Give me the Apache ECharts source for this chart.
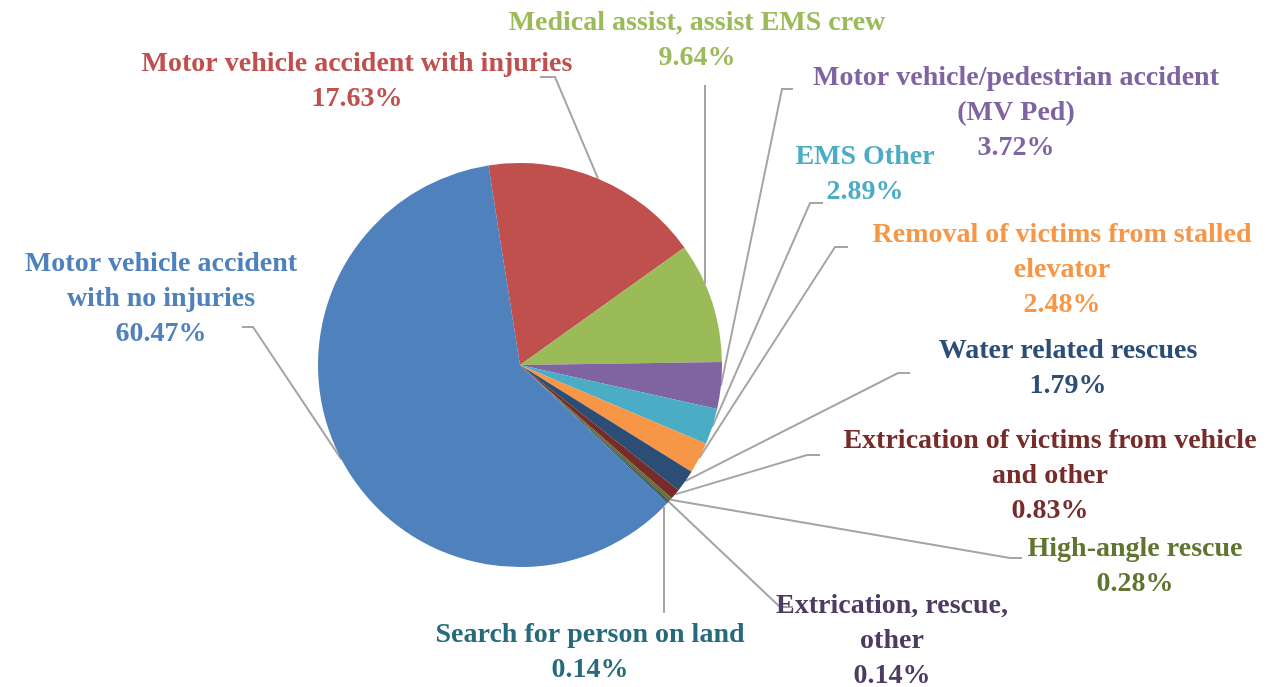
<!DOCTYPE html>
<html>
<head>
<meta charset="utf-8">
<script src="https://cdn.jsdelivr.net/npm/echarts@6/dist/echarts.min.js"></script>
<style>
  html, body { margin: 0; background: #fff; }
  #main { width: 1274px; height: 687px; }
</style>
</head>
<body>
<div id="main"></div>
<script>
// categories, in the order they go round the pie (clockwise from the top)
const categories = [
  'Motor vehicle accident with injuries',
  'Medical assist, assist EMS crew',
  'Motor vehicle/pedestrian accident\n(MV Ped)',
  'EMS Other',
  'Removal of victims from stalled\nelevator',
  'Water related rescues',
  'Extrication of victims from vehicle\nand other',
  'High-angle rescue',
  'Extrication, rescue,\nother',
  'Search for person on land',
  'Motor vehicle accident\nwith no injuries'
];
// share of calls, %
const percents = [17.63, 9.64, 3.72, 2.89, 2.48, 1.79, 0.83, 0.28, 0.14, 0.14, 60.47];
const colors = ['#C0504D', '#9BBB59', '#8064A2', '#4BACC6', '#F79646', '#2C4D75',
                '#772C2A', '#5F7530', '#4D3B62', '#276A7C', '#4F81BD'];

// pie geometry
const CX = 520, CY = 365, R = 202, START = 99;

// where each label block sits (centre) and the leader line's bend / end near the label
const labelAt = [[357, 81], [697, 40], [1016, 113], [865, 174], [1062, 270], [1068, 368],
                 [1050, 476], [1135, 566], [892, 641], [590, 652], [161, 299]];
const leaderEnd = [[[555, 77], [540, 77]], [[705, 85], [705, 85]], [[782, 89], [793, 89]],
                   [[810, 203], [823, 203]], [[835, 247], [848, 247]], [[898, 373], [910, 373]],
                   [[807, 455], [820, 455]], [[1010, 558], [1022, 558]], [[780, 607], [793, 607]],
                   [[664, 613], [664, 613]], [[253, 327], [242, 327]]];

const total = percents.reduce((a, b) => a + b, 0);
let acc = 0;
const edgePts = percents.map((v, i) => {
  const a = (START - (acc + v / 2) / total * 360) * Math.PI / 180;
  acc += v;
  const p = [CX + R * Math.cos(a), CY - R * Math.sin(a)];
  // straight vertical leaders meet the rim right under the label
  const b = leaderEnd[i];
  if (b[0][0] === b[1][0]) {
    const dx = b[0][0] - CX;
    const dy = Math.sqrt(R * R - dx * dx);
    p[0] = b[0][0];
    p[1] = b[0][1] < CY ? CY - dy : CY + dy;
  }
  return p;
});

const chart = echarts.init(document.getElementById('main'));

chart.setOption({
  backgroundColor: '#fff',
  animation: false,
  color: colors,
  series: [{
    type: 'pie',
    center: [CX, CY],
    radius: R,
    startAngle: START,
    clockwise: true,
    avoidLabelOverlap: false,
    emphasis: { disabled: true },
    data: categories.map((n, i) => ({
      name: n,
      value: percents[i],
      label: { color: colors[i] }
    })),
    label: {
      show: true,
      position: 'outside',
      fontFamily: 'Liberation Serif',
      fontWeight: 'bold',
      fontSize: 28,
      lineHeight: 35,
      overflow: 'none',
      formatter: p => p.name + '\n' + p.value.toFixed(2) + '%'
    },
    labelLine: {
      show: true,
      length: 20,
      length2: 10,
      lineStyle: { color: '#a5a5a5', width: 2 }
    },
    labelLayout: function (p) {
      const i = p.dataIndex;
      return {
        x: labelAt[i][0],
        y: labelAt[i][1],
        align: 'center',
        verticalAlign: 'middle',
        labelLinePoints: [edgePts[i], leaderEnd[i][0], leaderEnd[i][1]]
      };
    }
  }]
});
</script>
</body>
</html>
